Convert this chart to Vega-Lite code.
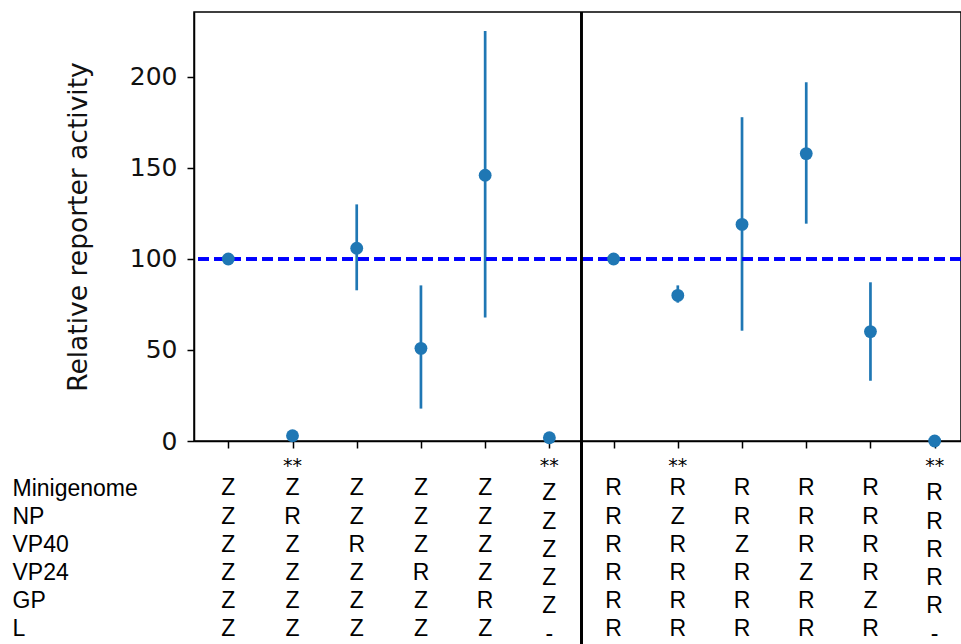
{
  "$schema": "https://vega.github.io/schema/vega-lite/v6.json",
  "padding": {"left": 12, "top": 10, "right": 0, "bottom": 0},
  "background": "white",
  "datasets": {
    "d": [
      {"i": 0, "val": 100, "lo": null, "hi": null, "sig": "", "Minigenome": "Z", "NP": "Z", "VP40": "Z", "VP24": "Z", "GP": "Z", "L": "Z"},
      {"i": 1, "val": 2.9, "lo": null, "hi": null, "sig": "**", "Minigenome": "Z", "NP": "R", "VP40": "Z", "VP24": "Z", "GP": "Z", "L": "Z"},
      {"i": 2, "val": 105.9, "lo": 82.8, "hi": 130, "sig": "", "Minigenome": "Z", "NP": "Z", "VP40": "R", "VP24": "Z", "GP": "Z", "L": "Z"},
      {"i": 3, "val": 50.9, "lo": 17.8, "hi": 85.5, "sig": "", "Minigenome": "Z", "NP": "Z", "VP40": "Z", "VP24": "R", "GP": "Z", "L": "Z"},
      {"i": 4, "val": 146, "lo": 67.8, "hi": 225.3, "sig": "", "Minigenome": "Z", "NP": "Z", "VP40": "Z", "VP24": "Z", "GP": "R", "L": "Z"},
      {"i": 5, "val": 1.8, "lo": null, "hi": null, "sig": "**", "Minigenome": "Z", "NP": "Z", "VP40": "Z", "VP24": "Z", "GP": "Z", "L": "-"},
      {"i": 6, "val": 100, "lo": null, "hi": null, "sig": "", "Minigenome": "R", "NP": "R", "VP40": "R", "VP24": "R", "GP": "R", "L": "R"},
      {"i": 7, "val": 80, "lo": 76, "hi": 85.5, "sig": "**", "Minigenome": "R", "NP": "Z", "VP40": "R", "VP24": "R", "GP": "R", "L": "R"},
      {"i": 8, "val": 119, "lo": 60.6, "hi": 177.9, "sig": "", "Minigenome": "R", "NP": "R", "VP40": "Z", "VP24": "R", "GP": "R", "L": "R"},
      {"i": 9, "val": 157.9, "lo": 119.4, "hi": 197.1, "sig": "", "Minigenome": "R", "NP": "R", "VP40": "R", "VP24": "Z", "GP": "R", "L": "R"},
      {"i": 10, "val": 60.1, "lo": 33.1, "hi": 87.2, "sig": "", "Minigenome": "R", "NP": "R", "VP40": "R", "VP24": "R", "GP": "Z", "L": "R"},
      {"i": 11, "val": 0, "lo": null, "hi": null, "sig": "**", "Minigenome": "R", "NP": "R", "VP40": "R", "VP24": "R", "GP": "R", "L": "-"}
    ]
  },
  "vconcat": [
    {
      "width": 767,
      "height": 429,
      "data": {"name": "d"},
      "layer": [
        {
          "mark": {"type": "rule", "color": "#1f77b4", "strokeWidth": 2.7},
          "transform": [{"filter": "isValid(datum.lo)"}],
          "encoding": {
            "x": {"field": "i", "type": "quantitative"},
            "y": {"field": "lo", "type": "quantitative"},
            "y2": {"field": "hi"}
          }
        },
        {
          "mark": {"type": "rule", "color": "#0000ff", "strokeWidth": 2.7, "strokeDash": [11, 5]},
          "encoding": {"y": {"datum": 100, "type": "quantitative"}}
        },
        {
          "mark": {"type": "point", "filled": true, "opacity": 1, "color": "#1f77b4", "size": 165, "shape": "circle"},
          "encoding": {
            "x": {"field": "i", "type": "quantitative",
              "scale": {"domain": [-0.534, 11.41], "nice": false, "zero": false},
              "axis": {"values": [0,1,2,3,4,5,6,7,8,9,10,11], "labels": false, "title": null, "grid": false, "tickSize": 7}
            },
            "y": {"field": "val", "type": "quantitative",
              "scale": {"domain": [0, 235.7], "nice": false},
              "axis": {"values": [0, 50, 100, 150, 200], "grid": false, "tickSize": 7, "labelPadding": 10,
                "labelFont": "DejaVu Sans", "labelFontSize": 25, "labelColor": "#111111",
                "title": "Relative reporter activity", "titleFont": "DejaVu Sans", "titleFontSize": 26.5,
                "titleFontWeight": "normal", "titleColor": "#111111", "titlePadding": 37}
            }
          }
        },
        {
          "mark": {"type": "rule", "color": "black", "strokeWidth": 1.5},
          "encoding": {"x": {"datum": 5.5, "type": "quantitative"}}
        }
      ]
    },
    {
      "width": 767,
      "height": 205,
      "view": {"stroke": null},
      "data": {"name": "d"},
      "transform": [
        {"fold": ["sig", "Minigenome", "NP", "VP40", "VP24", "GP", "L"], "as": ["key", "txt"]},
        {"filter": "datum.txt != ''"}
      ],
      "encoding": {
        "x": {"field": "i", "type": "quantitative",
          "scale": {"domain": [-0.534, 11.41], "nice": false, "zero": false}, "axis": null},
        "y": {"field": "key", "type": "nominal",
          "scale": {"type": "point", "domain": ["sig", "Minigenome", "NP", "VP40", "VP24", "GP", "L"], "padding": 0.65, "align": 0.53},
          "axis": {"title": null, "domain": false, "ticks": false, "tickSize": 0, "labelAlign": "left", "labelPadding": 182,
            "labelFont": "Liberation Sans", "labelFontSize": 23, "labelColor": "black",
            "labelExpr": "datum.value == 'sig' ? '' : datum.value"}
        },
        "text": {"field": "txt", "type": "nominal"}
      },
      "layer": [
        {
          "transform": [{"filter": "datum.key != 'sig' && datum.i != 5 && datum.i != 11"}],
          "mark": {"type": "text", "font": "Liberation Sans", "fontSize": 23, "color": "black", "baseline": "middle", "align": "center"}
        },
        {
          "transform": [{"filter": "datum.key != 'sig' && (datum.i == 5 || datum.i == 11)"}],
          "mark": {"type": "text", "font": "Liberation Sans", "fontSize": 23, "color": "black", "baseline": "middle", "align": "center", "dy": 5}
        },
        {
          "transform": [{"filter": "datum.key == 'sig'"}],
          "mark": {"type": "text", "font": "DejaVu Sans", "fontSize": 19, "color": "black", "baseline": "middle", "align": "center", "dy": 6}
        },
        {
          "mark": {"type": "rule", "color": "black", "strokeWidth": 1.5},
          "encoding": {"x": {"datum": 5.5, "type": "quantitative"}, "y": null, "text": null}
        }
      ]
    }
  ],
  "spacing": 0,
  "bounds": "flush",
  "config": {
    "view": {"stroke": "black", "strokeWidth": 1.5},
    "axis": {"domainColor": "black", "domainWidth": 1.5, "tickColor": "black", "tickWidth": 1.5}
  }
}
